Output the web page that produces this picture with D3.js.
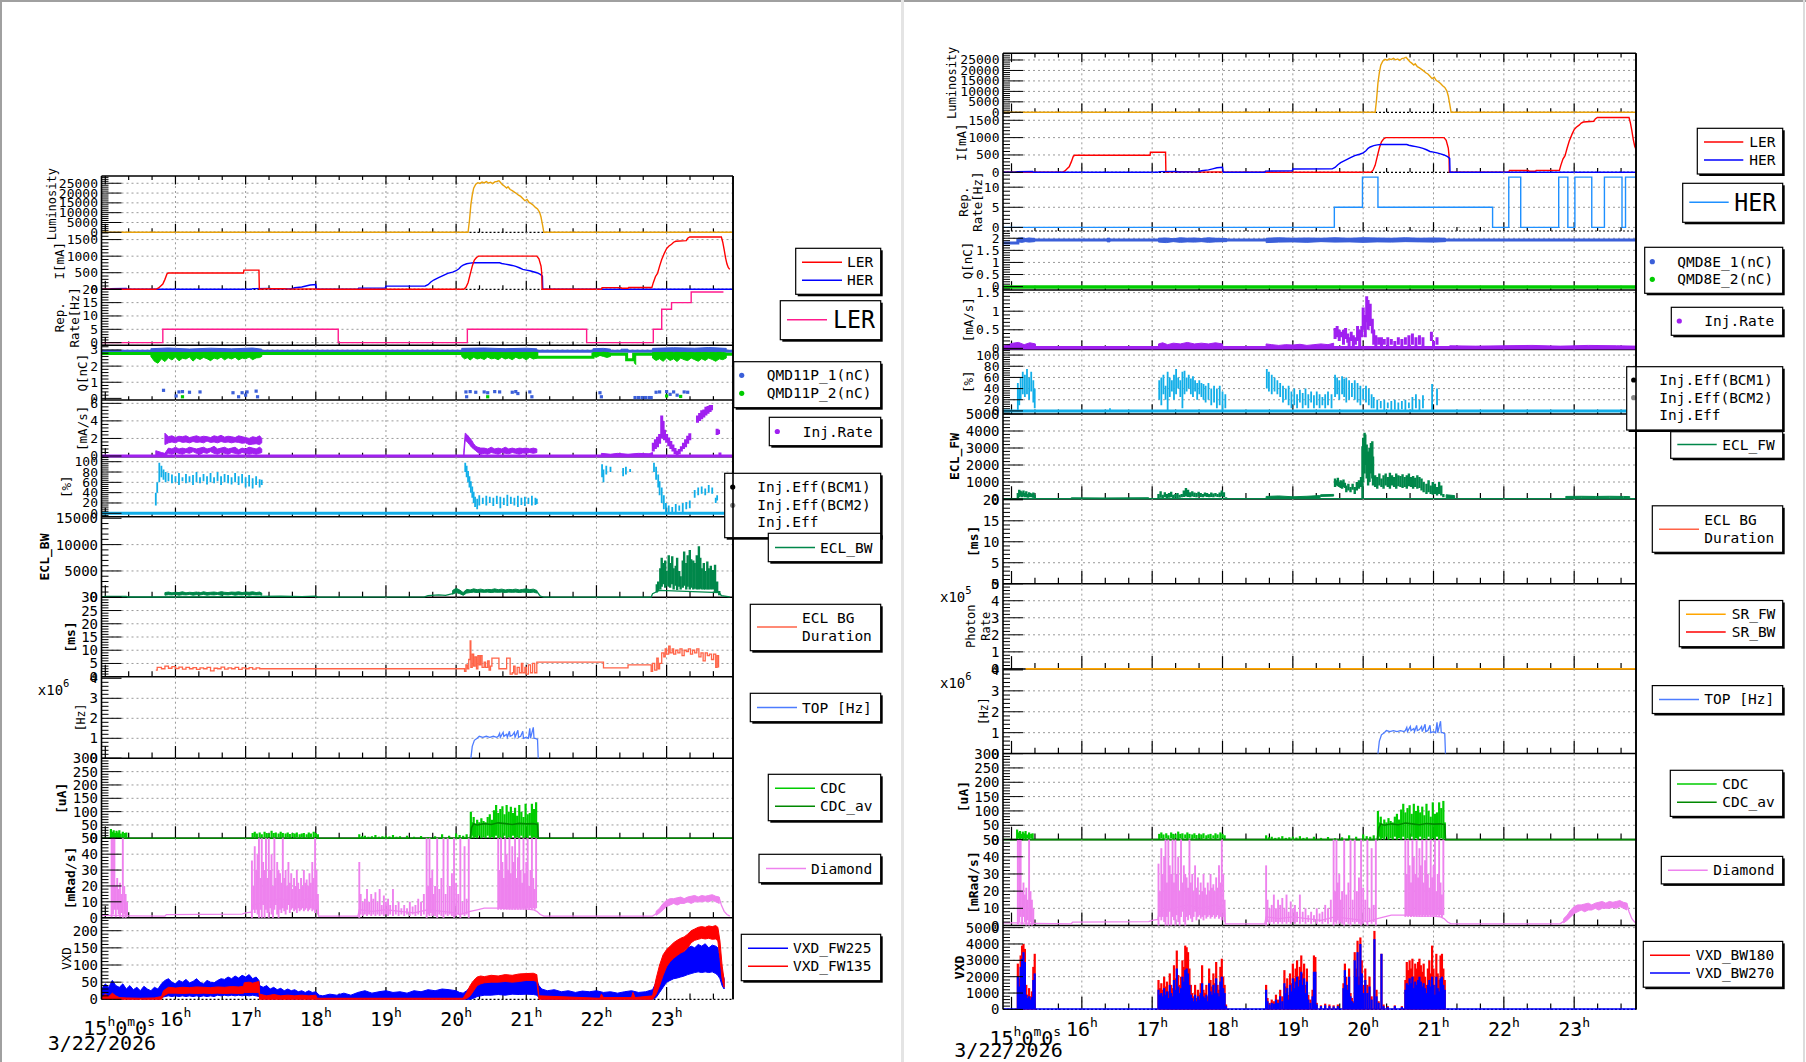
<!DOCTYPE html>
<html><head><meta charset="utf-8">
<script src="https://d3js.org/d3.v7.min.js"></script>
<style>
body{margin:0;background:#fff;overflow:hidden;}
svg{display:block;}
text{font-family:"DejaVu Sans Mono",monospace;fill:#000;}
</style></head><body>
<svg id="c" width="1806" height="1062"></svg>
<script>
// ================= DATA =================
const HOUR_TICKS=[15,16,17,18,19,20,21,22,23];
const HOUR_LABELS=[16,17,18,19,20,21,22,23];
const DATE_LABEL="3/22/2026";

const LUM=[[14.85,0],[20.17,0],[20.19,6000],[20.21,14000],[20.23,19000],[20.25,22500],[20.28,24500],[20.31,25300],[20.34,24900],[20.37,25600],[20.4,25200],[20.43,25800],[20.46,25100],[20.49,25500],[20.52,24800],[20.55,25700],[20.58,25900],[20.61,26300],[20.63,25500],[20.66,24300],[20.69,23500],[20.72,22600],[20.74,23200],[20.77,21800],[20.8,21200],[20.83,20500],[20.86,19800],[20.89,18900],[20.92,18300],[20.95,17200],[20.98,16100],[21.01,16800],[21.04,15200],[21.07,14600],[21.1,13800],[21.13,12700],[21.16,11900],[21.19,10200],[21.21,7800],[21.23,4000],[21.25,0],[23.96,0]];

const LER_I=[[14.85,0],[15.72,0],[15.76,40],[15.79,100],[15.82,160],[15.85,300],[15.88,470],[15.9,490],[16.97,490],[16.975,580],[17.19,580],[17.195,0],[17.3,15],[17.55,15],[17.6,5],[17.95,10],[18.02,0],[20.11,0],[20.14,60],[20.17,200],[20.2,450],[20.23,700],[20.26,880],[20.29,960],[20.32,1000],[21.15,1000],[21.18,920],[21.21,700],[21.22,500],[21.225,0],[22.07,0],[22.08,50],[22.35,50],[22.36,30],[22.45,30],[22.46,55],[22.79,55],[22.81,200],[22.84,380],[22.87,480],[22.9,700],[22.93,900],[22.97,1100],[23.0,1230],[23.03,1300],[23.07,1360],[23.1,1420],[23.13,1450],[23.28,1470],[23.3,1540],[23.33,1580],[23.78,1580],[23.8,1420],[23.82,1200],[23.84,950],[23.86,760],[23.88,650],[23.9,600]];

const HER_I=[[14.85,0],[15.07,0],[15.08,15],[15.3,25],[15.31,0],[17.08,0],[17.1,20],[17.35,25],[17.36,10],[17.65,12],[17.7,45],[17.8,70],[17.86,100],[17.92,130],[18.0,145],[18.01,0],[18.6,0],[18.61,35],[18.99,40],[19.0,95],[19.56,100],[19.6,140],[19.64,220],[19.68,280],[19.75,350],[19.82,420],[19.88,480],[19.95,520],[20.0,560],[20.04,620],[20.07,690],[20.1,730],[20.15,770],[20.2,790],[20.25,800],[20.62,800],[20.65,780],[20.7,760],[20.75,740],[20.8,720],[20.85,690],[20.9,650],[20.95,600],[21.0,580],[21.05,560],[21.1,530],[21.15,500],[21.2,450],[21.23,400],[21.235,0],[23.96,0]];

const REP_LER=[[14.85,0],[15.82,5],[18.32,0],[20.16,5],[21.86,0],[22.81,5],[22.93,12.5],[23.07,15],[23.35,19],[23.81,19]];
const REP_HER=[[14.85,0],[19.59,5],[19.99,12.5],[20.21,5],[21.84,0],[22.07,12.5],[22.24,0],[22.78,12.5],[22.91,0],[23.01,12.5],[23.25,0],[23.43,12.5],[23.68,0],[23.73,12.5],[23.9,12.5]];

// QMD11P (LER) charge
const QMD11P_1_LINE=[[14.85,2.92],[23.96,2.92]];
const QMD11P_2_LINE=[[14.85,2.78],[21.15,2.55],[21.95,2.74],[22.43,2.4],[22.53,2.74],[23.96,2.74]];
const QMD11P_1_BAND=[[15.65,2.9,3.08],[15.9,2.91,3.12],[16.2,2.9,3.06],[16.5,2.92,3.11],[16.8,2.9,3.07],[17.1,2.91,3.12],[17.23,2.9,3.05],[17.24,null,null],[20.08,2.9,3.1],[20.4,2.92,3.12],[20.7,2.9,3.08],[21.0,2.91,3.11],[21.15,2.92,3.07],[21.16,null,null],[21.95,2.9,3.08],[22.1,2.92,3.1],[22.2,2.9,3.05],[22.21,null,null],[22.35,2.9,3.05],[22.45,2.92,3.05],[22.46,null,null],[22.8,2.9,3.1],[23.1,2.92,3.14],[23.4,2.9,3.11],[23.6,2.91,3.15],[23.85,2.92,3.1]];
const QMD11P_2_BAND=[[15.65,2.6,2.8],[15.7,2.3,2.85],[15.75,2.18,2.9],[15.8,2.45,2.84],[15.85,2.28,2.95],[15.9,2.52,2.86],[15.95,2.38,2.9],[16.0,2.56,2.83],[16.05,2.33,2.91],[16.1,2.49,2.8],[16.15,2.44,2.94],[16.2,2.57,2.86],[16.25,2.31,2.89],[16.3,2.51,2.92],[16.35,2.41,2.84],[16.4,2.54,2.95],[16.45,2.46,2.85],[16.5,2.34,2.9],[16.55,2.5,2.86],[16.6,2.43,2.9],[16.65,2.56,2.96],[16.7,2.39,2.84],[16.75,2.52,2.91],[16.8,2.44,2.85],[16.85,2.55,2.9],[16.9,2.38,2.95],[16.95,2.5,2.86],[17.0,2.45,2.9],[17.05,2.56,2.84],[17.1,2.4,2.92],[17.15,2.51,2.85],[17.2,2.53,2.9],[17.23,2.6,2.8],[17.24,null,null],[20.08,2.6,2.85],[20.12,2.45,2.9],[20.16,2.52,2.86],[20.2,2.38,2.9],[20.25,2.55,2.84],[20.3,2.44,2.95],[20.35,2.5,2.86],[20.4,2.41,2.9],[20.45,2.56,2.9],[20.5,2.45,2.85],[20.55,2.49,2.95],[20.6,2.4,2.85],[20.65,2.55,2.9],[20.7,2.44,2.84],[20.75,2.51,2.95],[20.8,2.4,2.9],[20.85,2.55,2.85],[20.9,2.46,2.9],[20.95,2.52,2.85],[21.0,2.39,2.95],[21.05,2.55,2.85],[21.1,2.44,2.9],[21.15,2.5,2.85],[21.16,null,null],[21.95,2.6,2.86],[22.0,2.55,2.9],[22.05,2.66,2.85],[22.1,2.6,2.9],[22.15,2.54,2.85],[22.2,2.6,2.8],[22.21,null,null],[22.54,2.2,2.5],[22.56,2.1,2.7],[22.58,null,null],[22.8,2.5,2.85],[22.85,2.35,2.9],[22.9,2.46,2.86],[22.95,2.3,2.9],[23.0,2.5,2.84],[23.05,2.35,2.95],[23.1,2.45,2.85],[23.15,2.28,2.9],[23.2,2.5,2.86],[23.25,2.4,2.9],[23.3,2.34,2.85],[23.35,2.5,2.92],[23.4,2.4,2.85],[23.45,2.3,2.9],[23.5,2.46,2.86],[23.55,2.35,2.9],[23.6,2.5,2.85],[23.65,2.41,2.9],[23.7,2.3,2.85],[23.75,2.45,2.9],[23.8,2.4,2.85],[23.85,2.5,2.8]];
const QMD11P_1_LOW=[[15.83,0.5],[16.01,0.15],[16.05,0.4],[16.1,0.42],[16.2,0.38],[16.35,0.4],[16.82,0.35],[16.9,0.1],[16.95,0.35],[17.0,0.2],[17.02,0.4],[17.15,0.45],[17.17,0.1],[20.14,0.4],[20.15,0.1],[20.2,0.42],[20.28,0.38],[20.4,0.4],[20.45,0.35],[20.55,0.42],[20.62,0.4],[20.8,0.38],[20.85,0.42],[20.88,0.3],[21.05,0.4],[21.08,0.1],[22.05,0.35],[22.07,0.1],[22.55,0.05],[22.6,0.05],[22.65,0.05],[22.7,0.05],[22.75,0.05],[22.78,0.05],[22.85,0.38],[22.9,0.4],[23.0,0.42],[23.05,0.25],[23.1,0.4],[23.15,0.2],[23.25,0.4],[23.3,0.38]];
const QMD11P_2_LOW=[[16.1,0.1],[20.45,0.1],[23.0,0.15],[23.2,0.12]];

// QMD8E (HER) charge
const QMD8E_1_LINE=[[14.85,1.8],[15.09,1.93],[23.9,1.93]];
const QMD8E_2_LINE=[[14.85,-0.02],[23.9,-0.02]];
const QMD8E_1_BAND=[[15.09,1.85,2.0],[15.15,1.83,2.02],[15.2,1.86,1.99],[15.25,1.84,2.01],[15.33,1.86,1.99],[15.34,null,null],[16.36,1.85,2.0],[16.4,1.85,2.0],[16.41,null,null],[17.09,1.84,2.0],[17.2,1.82,2.01],[17.3,1.86,1.98],[17.4,1.83,2.02],[17.5,1.85,2.0],[17.6,1.84,2.01],[17.7,1.86,1.99],[17.8,1.83,2.02],[17.9,1.85,2.0],[18.06,1.86,1.99],[18.07,null,null],[18.62,1.82,2.0],[18.8,1.84,2.02],[19.0,1.85,2.0],[19.2,1.83,2.01],[19.4,1.86,2.0],[19.6,1.84,2.02],[19.8,1.85,2.0],[20.0,1.83,2.02],[20.2,1.85,2.01],[20.4,1.84,2.0],[20.6,1.86,2.02],[20.8,1.85,2.0],[21.0,1.84,2.01],[21.17,1.86,2.0]];

// Injection rate
const INJR_L_LINE=[[14.85,0],[23.96,0]];
const INJR_L_BAND=[[15.72,0.05,0.6],[15.8,0.05,0.4],[15.85,0.05,0.3],[15.9,0.3,0.9],[15.95,0.2,0.8],[16.0,0.4,1.0],[16.05,0.3,0.8],[16.1,0.2,0.9],[16.15,0.4,0.8],[16.2,0.3,1.0],[16.25,0.5,0.9],[16.3,0.3,0.8],[16.35,0.2,0.9],[16.4,0.4,1.0],[16.45,0.3,0.8],[16.5,0.5,0.9],[16.55,0.3,1.1],[16.6,0.2,0.8],[16.65,0.4,0.9],[16.7,0.3,1.0],[16.75,0.2,0.8],[16.8,0.4,0.9],[16.85,0.3,1.0],[16.9,0.2,0.7],[16.95,0.4,0.9],[17.0,0.3,0.8],[17.05,0.2,1.0],[17.1,0.3,0.9],[17.15,0.2,0.8],[17.2,0.3,1.0],[17.23,0.4,0.8],[17.24,null,null],[15.85,1.3,2.6],[15.9,1.5,2.2],[15.95,1.6,2.3],[16.0,1.5,2.1],[16.05,1.7,2.25],[16.1,1.55,2.2],[16.15,1.6,2.3],[16.2,1.5,2.1],[16.25,1.65,2.2],[16.3,1.55,2.3],[16.35,1.6,2.15],[16.4,1.5,2.25],[16.45,1.7,2.2],[16.5,1.55,2.1],[16.55,1.6,2.3],[16.6,1.5,2.2],[16.65,1.65,2.35],[16.7,1.55,2.15],[16.75,1.6,2.25],[16.8,1.5,2.2],[16.85,1.6,2.1],[16.9,1.55,2.3],[16.95,1.45,2.2],[17.0,1.5,2.1],[17.05,1.3,2.0],[17.1,1.35,2.2],[17.15,1.4,2.1],[17.2,1.3,2.3],[17.23,1.5,2.0],[17.24,null,null],[20.11,0.05,0.6],[20.13,1.8,2.6],[20.16,1.6,2.4],[20.19,1.3,2.1],[20.22,1.0,1.8],[20.25,0.8,1.4],[20.28,0.6,1.1],[20.31,0.4,1.0],[20.35,0.2,0.9],[20.4,0.3,0.9],[20.45,0.2,0.8],[20.5,0.4,1.0],[20.55,0.3,0.8],[20.6,0.2,0.9],[20.65,0.4,0.8],[20.7,0.3,1.0],[20.75,0.25,0.8],[20.8,0.4,0.9],[20.85,0.3,0.8],[20.9,0.2,0.9],[20.95,0.35,0.85],[21.0,0.3,0.9],[21.05,0.4,0.8],[21.1,0.3,0.9],[21.15,0.4,0.8],[21.16,null,null],[22.07,0,0.3],[22.2,0,0.2],[22.3,0,0.3],[22.45,0,0.2],[22.6,0,0.3],[22.75,0,0.25],[22.8,0.1,0.4]];
const INJR_L_SEG=[[22.81,0.5,1.5],[22.84,0.8,1.9],[22.87,1.0,2.2],[22.9,1.4,2.5],[22.93,2.0,4.6],[22.95,2.2,4.0],[22.97,1.8,3.0],[23.0,1.5,2.5],[23.03,1.1,2.1],[23.06,0.8,1.7],[23.09,0.5,1.3],[23.12,0.2,0.9],[23.15,0.05,0.6],[23.18,0.2,0.8],[23.21,0.5,1.1],[23.24,0.8,1.5],[23.27,1.0,1.9],[23.3,1.4,2.3],[23.33,1.8,2.6],[23.44,3.8,4.6],[23.47,4.0,4.9],[23.5,4.2,5.2],[23.53,4.4,5.3],[23.56,4.6,5.6],[23.59,4.8,5.7],[23.62,5.0,5.8],[23.64,5.2,5.8],[23.72,2.4,3.1],[23.74,2.5,3.0],[23.76,0.1,0.4]];
const INJR_R_LINE=[[14.85,0.02],[23.9,0.02]];
const INJR_R_BAND=[[14.88,0,0.06],[14.95,0.02,0.1],[15.02,0.03,0.14],[15.1,0.05,0.16],[15.18,0.02,0.1],[15.26,0.04,0.15],[15.34,0.02,0.12],[15.36,null,null],[17.09,0.02,0.12],[17.15,0.05,0.15],[17.22,0.02,0.1],[17.3,0.04,0.14],[17.4,0.03,0.12],[17.5,0.05,0.16],[17.6,0.02,0.12],[17.7,0.04,0.14],[17.8,0.03,0.12],[17.9,0.05,0.15],[18.0,0.02,0.12],[18.05,null,null],[18.62,0.02,0.12],[18.7,0.03,0.1],[18.8,0.02,0.08],[18.9,0.03,0.1],[19.0,0.02,0.09],[19.1,0.04,0.11],[19.2,0.02,0.08],[19.3,0.03,0.1],[19.4,0.04,0.12],[19.5,0.03,0.1],[19.58,0.05,0.14],[19.59,null,null],[21.23,0.02,0.07],[21.6,0.03,0.06],[22.0,0.02,0.07],[22.4,0.03,0.08],[22.8,0.02,0.06],[23.2,0.03,0.08],[23.6,0.02,0.07],[23.9,0.03,0.06]];
const INJR_R_SEG=[[19.6,0.25,0.55],[19.63,0.3,0.6],[19.66,0.2,0.5],[19.69,0.3,0.45],[19.72,0.1,0.5],[19.75,0.25,0.55],[19.78,0.15,0.4],[19.8,0.05,0.3],[19.83,0.2,0.45],[19.86,0.05,0.35],[19.89,0.1,0.3],[19.92,0.2,0.6],[19.95,0.05,0.5],[19.98,0.3,0.6],[20.0,0.5,1.1],[20.03,0.3,0.9],[20.05,0.7,1.4],[20.07,0.5,1.3],[20.1,0.6,1.2],[20.13,0.4,0.8],[20.15,0.1,0.5],[20.18,0.05,0.35],[20.22,0.1,0.3],[20.26,0.05,0.3],[20.3,0.1,0.25],[20.35,0.05,0.3],[20.4,0.1,0.25],[20.45,0.05,0.2],[20.5,0.1,0.3],[20.55,0.05,0.25],[20.6,0.1,0.3],[20.65,0.05,0.35],[20.7,0.1,0.4],[20.75,0.05,0.3],[20.8,0.1,0.35],[20.85,0.05,0.3],[20.97,0.2,0.45],[21.0,0.05,0.2],[21.05,0.1,0.3]];

// Injection efficiency
const INJE_L_LINE=[[14.85,0],[23.96,0]];
const INJE_L=[[15.72,15,40],[15.74,40,60],[15.77,60,98],[15.8,70,92],[15.83,65,85],[15.86,60,80],[15.9,62,78],[15.95,58,75],[16.0,60,72],[16.05,55,78],[16.1,62,70],[16.15,58,76],[16.2,60,72],[16.25,55,74],[16.3,60,80],[16.35,58,70],[16.4,62,76],[16.45,56,72],[16.5,60,78],[16.55,58,70],[16.6,62,80],[16.65,55,72],[16.7,60,76],[16.75,58,74],[16.8,56,70],[16.85,60,78],[16.9,55,72],[16.95,58,76],[17.0,50,70],[17.05,52,74],[17.1,48,68],[17.15,55,72],[17.2,50,66],[17.23,55,65],[20.13,80,98],[20.15,70,92],[20.17,60,82],[20.19,50,72],[20.21,40,62],[20.23,30,52],[20.25,20,42],[20.27,12,32],[20.3,8,28],[20.33,15,35],[20.38,18,30],[20.43,15,34],[20.48,20,32],[20.53,14,30],[20.58,18,34],[20.63,10,32],[20.68,16,30],[20.73,14,36],[20.78,18,32],[20.83,15,30],[20.88,12,34],[20.93,16,30],[20.98,14,32],[21.03,18,30],[21.08,15,34],[21.13,16,30],[21.15,18,28],[22.08,70,95],[22.1,60,85],[22.14,75,92],[22.2,80,90],[22.38,72,88],[22.42,75,90],[22.48,80,86],[22.82,80,98],[22.85,65,90],[22.88,50,75],[22.9,35,62],[22.93,20,50],[22.96,8,35],[22.99,2,20],[23.03,0,15],[23.08,2,12],[23.13,0,18],[23.18,5,15],[23.23,2,20],[23.28,8,22],[23.33,10,25],[23.4,30,45],[23.45,35,50],[23.5,38,52],[23.55,35,48],[23.6,40,55],[23.65,38,50],[23.7,20,30],[23.72,25,35]];
const INJE_R_LINE=[[14.85,0],[23.9,0]];
const INJE_R=[[15.09,0,50],[15.11,10,40],[15.13,20,60],[15.16,30,70],[15.19,25,65],[15.22,30,75],[15.25,20,60],[15.28,35,70],[15.31,15,55],[15.33,5,40],[16.4,0,5],[17.1,20,55],[17.13,10,60],[17.16,30,65],[17.19,20,45],[17.22,0,70],[17.25,25,60],[17.28,35,55],[17.31,20,65],[17.34,30,75],[17.37,40,60],[17.4,25,55],[17.43,5,70],[17.46,30,72],[17.49,35,60],[17.52,40,65],[17.55,30,58],[17.58,25,62],[17.61,35,55],[17.64,20,50],[17.67,30,55],[17.7,25,50],[17.73,20,48],[17.76,15,45],[17.8,20,50],[17.84,10,40],[17.88,15,45],[17.92,5,40],[17.96,10,45],[18.0,0,35],[18.04,5,30],[18.63,40,75],[18.66,35,70],[18.7,30,65],[18.74,35,60],[18.78,30,55],[18.82,25,50],[18.86,15,45],[18.9,20,40],[18.94,10,45],[18.98,5,35],[19.02,10,40],[19.06,5,30],[19.1,15,38],[19.14,5,32],[19.18,10,40],[19.22,5,30],[19.26,15,35],[19.3,5,28],[19.34,10,35],[19.38,5,30],[19.42,10,25],[19.46,5,30],[19.5,10,35],[19.55,5,30],[19.6,25,65],[19.63,30,60],[19.66,20,55],[19.7,30,62],[19.73,25,58],[19.76,15,60],[19.8,20,55],[19.84,25,50],[19.88,20,55],[19.92,15,50],[19.96,10,45],[20.0,20,40],[20.04,15,45],[20.08,10,40],[20.12,5,30],[20.15,5,25],[20.2,0,20],[20.25,5,18],[20.3,0,20],[20.35,5,15],[20.4,0,18],[20.45,2,20],[20.5,0,15],[20.55,3,18],[20.6,0,20],[20.65,5,15],[20.7,0,25],[20.75,5,30],[20.8,0,20],[20.85,5,28],[20.98,0,48],[21.05,10,40]];

// ECL
const ECLBW_L_LINE=[[14.946,80],[15.0,150],[15.3,180],[15.32,60],[15.85,60],[17.23,150],[17.5,200],[17.8,120],[18.0,220],[18.03,40],[19.55,80],[19.6,300],[19.75,450],[19.85,350],[19.95,700],[20.0,1300],[20.05,900],[20.1,500],[20.13,1100],[21.15,1100],[21.2,200],[21.25,40],[22.78,40],[22.8,700],[22.85,1000],[22.9,1300],[23.75,900],[23.78,300],[23.9,100]];
const ECLBW_L_BAND=[[15.85,400,900],[15.9,500,1000],[15.95,450,850],[16.0,550,950],[16.05,400,900],[16.1,500,1050],[16.15,450,850],[16.2,550,950],[16.25,400,900],[16.3,500,1000],[16.35,450,850],[16.4,550,1050],[16.45,400,900],[16.5,500,950],[16.55,450,1000],[16.6,550,900],[16.65,400,1050],[16.7,500,950],[16.75,450,900],[16.8,550,1000],[16.85,400,950],[16.9,500,1050],[16.95,450,900],[17.0,550,1000],[17.05,400,950],[17.1,500,1050],[17.15,450,900],[17.2,500,1000],[17.23,400,800],[17.24,null,null],[19.95,600,1300],[20.0,900,1700],[20.05,700,1400],[20.1,400,900],[20.15,800,1500],[20.2,900,1400],[20.25,1000,1600],[20.3,900,1450],[20.35,1000,1550],[20.4,950,1400],[20.45,1000,1500],[20.5,900,1450],[20.55,1000,1600],[20.6,950,1450],[20.65,1000,1550],[20.7,900,1400],[20.75,1000,1500],[20.8,950,1450],[20.85,1000,1550],[20.9,900,1400],[20.95,1000,1500],[21.0,950,1600],[21.05,900,1450],[21.1,1000,1550],[21.15,800,1300]];
const ECLBW_L_SPK=[[22.86,900,2500],[22.88,1200,3000],[22.91,1500,5500],[22.93,2000,7500],[22.95,2500,6500],[22.98,1800,7000],[23.0,2200,5000],[23.03,2000,8000],[23.05,1800,6500],[23.08,2500,7800],[23.1,1500,5500],[23.13,2200,6000],[23.15,1400,7500],[23.18,2000,5000],[23.2,1500,4000],[23.23,1800,7000],[23.25,2200,8700],[23.28,1500,6500],[23.3,2000,8000],[23.33,1500,9000],[23.35,1800,7200],[23.38,1500,7000],[23.4,1600,6500],[23.43,1500,8000],[23.46,1500,9700],[23.48,1600,7500],[23.5,1500,5500],[23.53,1500,6500],[23.55,1500,5000],[23.58,1500,6800],[23.6,1500,5500],[23.63,1500,6000],[23.66,1500,5200],[23.69,1000,6200],[23.72,800,3000],[23.75,400,1200]];
const ECLFW_R_LINE=[[14.85,25],[23.9,25]];
const ECLFW_R_BAND=[[15.85,20,70],[16.3,25,60],[16.95,20,75],[16.96,null,null],[18.62,20,150],[18.8,30,180],[19.0,30,130],[19.2,40,160],[19.38,60,200],[19.4,150,250],[19.58,170,270],[19.59,null,null],[21.18,80,250],[21.3,50,200],[21.31,null,null],[22.88,80,150],[23.1,95,160],[23.3,90,150],[23.5,95,160],[23.7,90,150],[23.79,80,140]];
const ECLFW_R_SEG=[[15.09,0,350],[15.11,100,550],[15.13,150,480],[15.15,100,400],[15.17,150,500],[15.19,100,350],[15.21,120,450],[15.23,80,300],[15.25,100,400],[15.27,120,350],[15.29,100,300],[15.31,80,380],[15.33,50,250],[17.09,50,300],[17.12,80,450],[17.15,60,250],[17.18,100,400],[17.21,60,300],[17.24,80,350],[17.27,100,420],[17.3,60,250],[17.33,80,300],[17.36,60,350],[17.39,80,250],[17.42,100,300],[17.45,120,500],[17.48,150,650],[17.51,120,550],[17.54,100,400],[17.57,150,450],[17.6,120,380],[17.63,100,350],[17.66,150,420],[17.69,120,350],[17.72,100,300],[17.75,150,380],[17.78,120,350],[17.81,100,300],[17.84,120,380],[17.87,100,320],[17.9,150,350],[17.93,120,300],[17.96,100,380],[17.99,150,500],[18.02,100,400],[18.05,0,100],[19.6,700,1200],[19.62,800,1100],[19.64,750,1250],[19.66,700,1000],[19.68,650,1100],[19.7,600,1050],[19.72,700,1150],[19.74,650,950],[19.76,400,800],[19.79,500,900],[19.82,400,700],[19.85,550,900],[19.88,300,700],[19.91,500,1000],[19.94,600,1100],[19.97,700,1300],[19.99,0,3100],[20.0,1000,3600],[20.02,1500,3900],[20.03,2000,3800],[20.05,1200,3200],[20.07,800,2800],[20.09,1000,3000],[20.11,1500,3300],[20.13,1200,3400],[20.14,800,2500],[20.17,700,1400],[20.2,600,1300],[20.23,800,1500],[20.26,700,1200],[20.29,600,1400],[20.32,800,1500],[20.35,700,1300],[20.38,600,1550],[20.41,800,1400],[20.44,700,1300],[20.47,600,1500],[20.5,750,1400],[20.53,700,1350],[20.56,650,1450],[20.59,700,1300],[20.62,600,1400],[20.65,750,1500],[20.68,700,1300],[20.71,600,1350],[20.74,700,1250],[20.77,600,1400],[20.8,650,1300],[20.83,500,1200],[20.86,400,1000],[20.9,300,900],[20.93,400,1100],[20.96,300,800],[20.99,250,1000],[21.02,300,900],[21.05,200,700],[21.08,300,1000],[21.11,200,800],[21.14,100,300]];

const DUR_L=[[15.72,2.5],[15.74,3.5],[15.8,3.0],[15.85,4.0],[15.9,3.2],[15.95,3.8],[16.0,3.1],[16.05,3.6],[16.1,2.9],[16.15,3.5],[16.2,3.0],[16.25,3.4],[16.3,2.8],[16.35,3.3],[16.4,3.0],[16.45,3.5],[16.5,2.2],[16.55,3.2],[16.6,3.0],[16.65,3.6],[16.7,2.9],[16.75,3.3],[16.8,3.0],[16.85,3.5],[16.9,2.8],[16.95,3.3],[17.0,3.0],[17.05,3.4],[17.1,2.9],[17.15,3.3],[17.2,3.0],[20.1,3.0],[20.12,2.0],[20.14,4.5],[20.16,3.0],[20.18,6.5],[20.2,13.5],[20.21,3.5],[20.23,8.5],[20.25,4.0],[20.27,7.5],[20.29,3.0],[20.31,8.0],[20.33,4.5],[20.35,8.0],[20.37,3.5],[20.4,5.5],[20.42,3.5],[20.45,6.0],[20.47,2.5],[20.49,4.0],[20.51,4.0],[20.51,7.0],[20.61,7.0],[20.61,3.0],[20.72,3.0],[20.72,7.0],[20.77,7.0],[20.77,1.0],[20.8,1.5],[20.82,4.0],[20.84,1.0],[20.87,3.5],[20.9,1.5],[20.93,5.0],[20.95,1.5],[20.98,3.5],[21.0,1.0],[21.03,4.5],[21.06,1.5],[21.09,5.0],[21.12,1.5],[21.15,5.5],[22.08,5.5],[22.1,3.3],[22.45,3.3],[22.45,4.5],[22.75,4.5],[22.78,2.0],[22.8,5.0],[22.83,2.5],[22.86,7.0],[22.88,3.0],[22.9,5.0],[22.93,9.0],[22.96,7.5],[22.98,10.5],[23.0,8.5],[23.03,11.5],[23.05,9.0],[23.08,10.5],[23.1,8.5],[23.13,10.0],[23.16,9.0],[23.19,10.5],[23.22,8.0],[23.25,10.0],[23.28,9.5],[23.31,10.5],[23.34,8.5],[23.37,10.0],[23.4,9.0],[23.43,10.5],[23.46,7.5],[23.49,9.0],[23.52,6.0],[23.55,9.0],[23.58,8.0],[23.61,8.5],[23.64,6.5],[23.67,8.5],[23.7,3.5],[23.72,8.0],[23.74,3.5]];

const PHOTON_FW=[[15.2,0],[23.9,0]];

const TOP_HZ=[[20.21,0],[20.23,0.6],[20.26,0.9],[20.3,1.0],[20.33,1.1],[20.38,1.05],[20.43,1.1],[20.48,1.05],[20.53,1.1],[20.58,1.05],[20.6,1.1],[20.62,1.25],[20.63,1.05],[20.67,1.3],[20.68,1.1],[20.72,1.2],[20.73,1.05],[20.76,1.35],[20.77,1.1],[20.8,1.15],[20.83,1.3],[20.84,1.05],[20.88,1.4],[20.89,1.05],[20.92,1.1],[20.95,1.35],[20.96,1.0],[21.0,1.05],[21.03,1.0],[21.05,1.5],[21.06,1.0],[21.1,1.55],[21.11,1.0],[21.13,1.0],[21.16,0.95],[21.17,0]];

const CDC_AV=[[14.85,0],[20.2,0],[20.22,40],[20.25,55],[20.3,50],[20.4,55],[20.5,52],[20.6,58],[20.7,55],[20.8,52],[20.9,56],[21.0,54],[21.1,55],[21.16,52],[21.17,0],[23.96,0]];
const CDC_SPK=[[15.08,0,35],[15.1,5,25],[15.12,0,30],[15.14,5,20],[15.16,0,28],[15.18,5,22],[15.2,0,30],[15.22,5,18],[15.25,0,25],[15.28,5,20],[15.3,0,22],[17.1,0,20],[17.13,5,25],[17.16,0,18],[17.2,5,22],[17.23,0,15],[17.27,5,25],[17.3,0,20],[17.33,5,18],[17.37,0,28],[17.4,5,20],[17.43,0,22],[17.47,5,18],[17.5,0,25],[17.53,5,20],[17.57,0,18],[17.6,5,22],[17.63,0,16],[17.67,5,20],[17.7,0,18],[17.73,5,22],[17.77,0,15],[17.8,5,18],[17.83,0,20],[17.87,5,15],[17.9,0,22],[17.93,5,18],[17.97,0,25],[18.0,5,20],[18.03,0,15],[18.62,0,15],[18.66,0,8],[18.7,0,10],[18.75,0,6],[18.8,0,8],[18.85,0,12],[18.9,0,6],[18.95,0,8],[19.0,0,10],[19.05,0,7],[19.1,0,12],[19.15,0,6],[19.2,0,8],[19.3,0,10],[19.4,0,6],[19.5,0,9],[19.6,0,5],[19.7,0,8],[19.8,0,15],[19.9,0,10],[20.0,0,18],[20.05,0,12],[20.1,0,10],[20.15,0,15],[20.21,0,100],[20.23,10,60],[20.25,0,80],[20.27,5,55],[20.3,0,70],[20.33,10,60],[20.36,0,75],[20.39,5,65],[20.42,0,60],[20.45,10,80],[20.48,0,90],[20.51,5,70],[20.54,0,105],[20.57,10,125],[20.6,0,95],[20.63,5,110],[20.66,0,120],[20.69,10,90],[20.72,0,125],[20.75,5,100],[20.78,0,118],[20.81,10,95],[20.84,0,115],[20.87,5,85],[20.9,0,125],[20.93,10,100],[20.96,0,80],[20.99,5,130],[21.02,0,90],[21.05,10,95],[21.08,0,130],[21.11,5,110],[21.14,0,135],[21.16,5,60]];

const DIAM_BASE=[[14.85,1.5],[15.07,1.5],[15.33,1.2],[15.85,1.0],[15.87,2.0],[16.95,2.2],[17.0,3.0],[17.08,3.5],[17.1,8],[17.3,10],[17.5,12],[17.7,10],[17.9,12],[18.03,10],[18.04,1.0],[18.6,1.0],[18.62,5],[18.8,4],[19.0,5],[19.2,4],[19.4,3],[19.6,5],[19.8,4],[20.0,3],[20.05,2],[20.2,4],[20.3,5],[20.4,6],[20.6,6],[20.8,5.5],[21.0,5.5],[21.1,5],[21.15,4],[21.2,2],[21.25,1],[22.8,1],[22.9,4],[23.0,8],[23.05,10],[23.3,11],[23.5,12],[23.75,12.5],[23.78,8],[23.82,4],[23.86,2],[23.9,1]];
const DIAM_SPK=[[15.09,0,50],[15.11,2,50],[15.13,5,50],[15.15,0,20],[15.17,5,25],[15.19,2,18],[15.21,0,22],[15.23,3,15],[15.25,0,50],[15.27,2,20],[15.29,0,15],[15.31,1,10],[17.09,0,36],[17.11,5,20],[17.13,3,45],[17.15,5,30],[17.17,2,40],[17.19,0,50],[17.21,5,25],[17.23,0,50],[17.25,8,35],[17.27,0,30],[17.29,5,50],[17.31,3,25],[17.33,0,50],[17.35,6,30],[17.37,2,40],[17.39,0,20],[17.41,5,50],[17.43,8,25],[17.45,2,35],[17.47,0,30],[17.49,5,28],[17.51,3,22],[17.53,6,50],[17.55,4,25],[17.57,2,30],[17.59,5,20],[17.61,8,35],[17.63,3,22],[17.65,5,28],[17.67,6,18],[17.69,4,25],[17.71,5,20],[17.73,3,30],[17.75,6,22],[17.77,4,18],[17.79,5,25],[17.81,6,20],[17.83,4,30],[17.85,5,22],[17.87,6,24],[17.89,4,20],[17.91,5,28],[17.93,6,22],[17.95,4,35],[17.97,5,25],[17.99,3,50],[18.01,5,30],[18.03,2,15],[18.62,0,35],[18.64,2,15],[18.67,1,10],[18.7,2,12],[18.73,1,18],[18.76,2,10],[18.79,1,15],[18.82,2,12],[18.85,1,16],[18.88,2,10],[18.91,1,18],[18.94,2,8],[18.97,1,14],[19.0,2,10],[19.03,1,12],[19.06,2,8],[19.1,1,18],[19.14,2,8],[19.18,1,10],[19.22,2,6],[19.26,1,8],[19.3,2,6],[19.34,1,10],[19.38,2,7],[19.42,1,8],[19.46,2,12],[19.5,1,10],[19.54,2,15],[19.58,0,50],[19.6,2,20],[19.62,1,50],[19.64,3,25],[19.66,1,30],[19.68,2,15],[19.7,1,20],[19.73,0,50],[19.76,2,18],[19.79,1,25],[19.82,0,50],[19.85,2,15],[19.88,1,50],[19.91,2,20],[19.94,1,28],[19.97,0,50],[20.0,1,22],[20.03,2,15],[20.06,0,50],[20.09,2,10],[20.12,1,45],[20.15,2,12],[20.18,0,50],[20.6,5,50],[20.62,6,30],[20.64,5,50],[20.66,6,35],[20.68,5,25],[20.7,6,50],[20.72,5,40],[20.74,6,30],[20.76,5,50],[20.78,6,28],[20.8,5,45],[20.82,6,35],[20.84,5,50],[20.86,6,25],[20.88,5,38],[20.9,6,50],[20.92,5,30],[20.94,6,22],[20.96,5,50],[20.98,6,28],[21.0,5,35],[21.02,6,50],[21.04,5,20],[21.06,6,30],[21.08,5,50],[21.1,6,25],[21.12,5,18],[21.14,6,50]];
const DIAM_BAND=[[22.85,1.5,4],[22.9,3,6],[22.95,5,9],[23.0,7,11],[23.05,8,12],[23.1,9,12],[23.15,8,12.5],[23.2,9,13],[23.25,9,12],[23.3,10,13],[23.35,9,13.5],[23.4,10,14],[23.45,10,13],[23.5,10,14],[23.55,10.5,13.5],[23.6,10,14],[23.65,11,14.5],[23.7,10,13.5],[23.75,9,13]];

const VXD_FW225=[[14.95,0,30],[15.0,5,45],[15.05,0,35],[15.1,3,55],[15.15,0,40],[15.2,5,35],[15.25,0,45],[15.3,3,30],[15.35,0,40],[15.4,2,28],[15.45,0,35],[15.5,3,25],[15.55,0,38],[15.6,2,30],[15.65,0,25],[15.7,3,35],[15.75,0,30],[15.8,5,45],[15.85,8,55],[15.9,10,60],[15.95,8,50],[16.0,10,45],[16.05,8,55],[16.1,10,50],[16.15,8,58],[16.2,10,48],[16.25,8,52],[16.3,10,60],[16.35,8,50],[16.4,10,45],[16.45,8,55],[16.5,10,50],[16.55,8,48],[16.6,12,55],[16.65,10,60],[16.7,12,58],[16.75,10,65],[16.8,12,60],[16.85,10,68],[16.9,12,62],[16.95,10,70],[17.0,12,65],[17.05,10,72],[17.1,12,60],[17.15,10,65],[17.19,8,55],[17.2,5,40],[17.25,3,35],[17.3,0,40],[17.35,5,30],[17.4,0,35],[17.45,3,28],[17.5,0,32],[17.55,5,25],[17.6,0,30],[17.65,3,25],[17.7,0,28],[17.75,3,22],[17.8,0,25],[17.85,3,20],[17.9,0,25],[17.95,3,20],[18.0,0,22],[18.05,0,12],[18.1,0,10],[18.2,0,15],[18.3,0,12],[18.4,0,18],[18.5,0,12],[18.6,0,20],[18.7,0,25],[18.8,0,18],[18.9,0,22],[19.0,0,25],[19.1,0,20],[19.2,0,22],[19.3,0,18],[19.4,0,25],[19.5,0,22],[19.6,0,28],[19.7,0,25],[19.8,0,30],[19.9,0,28],[20.0,0,25],[20.05,0,20],[20.1,0,18],[20.15,0,25],[20.2,0,35],[20.25,3,45],[20.3,8,50],[20.35,10,52],[20.4,12,55],[20.5,12,52],[20.6,14,55],[20.7,12,53],[20.8,15,55],[20.9,14,56],[21.0,15,58],[21.1,14,57],[21.15,12,55],[21.18,5,40],[21.22,0,30],[21.3,0,25],[21.4,0,28],[21.5,0,22],[21.6,0,25],[21.7,0,20],[21.8,0,24],[21.9,0,22],[22.0,0,25],[22.1,0,20],[22.2,0,22],[22.3,0,18],[22.4,0,22],[22.5,0,25],[22.6,0,20],[22.7,0,22],[22.8,0,28],[22.85,5,50],[22.9,20,80],[22.95,35,100],[23.0,50,120],[23.05,55,125],[23.1,60,130],[23.15,62,135],[23.2,65,140],[23.25,68,138],[23.3,72,150],[23.35,75,155],[23.4,78,150],[23.45,80,160],[23.5,78,155],[23.55,80,162],[23.6,78,150],[23.65,80,158],[23.7,75,155],[23.73,70,150],[23.76,60,120],[23.79,40,80],[23.82,30,60]];
const VXD_FW135=[[14.95,0,5],[15.0,0,15],[15.05,0,8],[15.1,0,18],[15.15,0,10],[15.2,0,5],[15.3,0,4],[15.5,0,3],[15.7,0,4],[15.8,0,8],[15.83,10,25],[15.9,18,35],[16.0,18,33],[16.1,17,35],[16.2,18,34],[16.3,17,36],[16.4,18,35],[16.5,17,34],[16.6,18,36],[16.7,17,35],[16.8,18,37],[16.9,17,36],[16.97,18,38],[16.98,20,48],[17.05,20,50],[17.1,20,47],[17.19,20,52],[17.2,0,15],[17.3,0,10],[17.4,0,14],[17.5,0,10],[17.6,0,12],[17.7,0,10],[17.8,0,12],[17.9,0,10],[18.0,0,12],[18.02,0,3],[20.1,0,3],[20.15,2,20],[20.2,10,40],[20.25,25,55],[20.3,40,65],[20.35,45,68],[20.4,48,66],[20.5,50,70],[20.6,50,68],[20.7,52,72],[20.8,50,70],[20.9,52,74],[21.0,55,75],[21.1,55,76],[21.15,52,72],[21.18,0,10],[22.05,0,3],[22.07,0,15],[22.1,0,5],[22.5,0,5],[22.52,0,20],[22.55,0,5],[22.8,0,10],[22.85,15,60],[22.9,40,100],[22.95,70,130],[23.0,95,145],[23.05,110,155],[23.1,120,165],[23.15,128,172],[23.2,135,178],[23.25,140,182],[23.3,150,190],[23.35,165,200],[23.4,172,205],[23.45,175,210],[23.5,178,212],[23.55,176,210],[23.6,178,214],[23.65,175,212],[23.7,176,215],[23.73,170,210],[23.76,120,170],[23.79,60,100],[23.82,35,55]];
// right VXD: [time, BW180, BW270]
const VXD_BW=[[15.09,2800,2000],[15.11,1900,1400],[15.13,3300,2600],[15.15,3900,3100],[15.17,4000,3500],[15.19,3700,2900],[15.21,1500,900],[15.23,900,700],[15.25,1300,800],[15.27,800,600],[15.29,1100,750],[15.31,2600,1800],[15.33,3400,2200],[17.09,1800,1200],[17.11,1300,900],[17.13,1600,1000],[17.15,1200,800],[17.17,2000,1300],[17.19,1400,900],[17.21,1700,1100],[17.23,1100,700],[17.25,2200,1500],[17.27,1500,1000],[17.29,1300,800],[17.31,2700,1800],[17.33,1900,1200],[17.35,3600,2500],[17.37,2100,1400],[17.39,1500,1000],[17.41,2000,1300],[17.43,3000,2000],[17.45,2600,1700],[17.47,3900,2400],[17.49,3800,2500],[17.51,3500,2200],[17.53,2500,1500],[17.55,1500,900],[17.57,1000,700],[17.59,800,500],[17.61,1500,900],[17.63,700,500],[17.65,1200,800],[17.67,900,600],[17.69,1600,1000],[17.71,2700,1600],[17.73,1200,800],[17.75,1000,700],[17.77,1500,900],[17.79,800,500],[17.81,2500,1600],[17.83,1800,1100],[17.85,1400,900],[17.87,2200,1500],[17.89,1600,1000],[17.91,2900,1900],[17.93,1500,1000],[17.95,1200,800],[17.97,2600,1700],[17.99,3100,2000],[18.01,2000,1300],[18.03,1500,1000],[18.05,300,200],[18.62,1500,1200],[18.64,700,500],[18.67,400,300],[18.7,600,400],[18.73,500,350],[18.76,900,600],[18.79,600,400],[18.82,1200,800],[18.85,800,500],[18.88,2400,1600],[18.9,1400,1000],[18.92,1900,1300],[18.94,900,600],[18.96,2200,1500],[18.98,1600,1100],[19.0,2800,1900],[19.02,1900,1300],[19.04,2500,1700],[19.06,3000,2000],[19.08,2000,1400],[19.1,2600,1800],[19.12,3300,2300],[19.14,2200,1500],[19.16,2800,1900],[19.18,1500,1000],[19.2,2500,1700],[19.22,900,600],[19.25,600,400],[19.28,1200,800],[19.3,3300,2300],[19.32,3200,2300],[19.34,400,300],[19.4,250,200],[19.46,350,250],[19.52,300,200],[19.58,250,180],[19.64,300,200],[19.72,1600,1300],[19.74,2800,2400],[19.76,2000,1500],[19.78,1500,1200],[19.8,2500,2000],[19.82,1000,800],[19.84,700,500],[19.86,500,400],[19.88,3500,3000],[19.9,2500,2000],[19.92,4200,3500],[19.94,2000,1500],[19.96,4400,4000],[19.98,3000,2200],[20.0,1500,1000],[20.03,2500,1800],[20.06,1500,1000],[20.09,2000,1400],[20.12,800,600],[20.16,4800,4300],[20.19,1200,800],[20.22,500,400],[20.26,3400,3400],[20.29,300,200],[20.35,200,150],[20.45,250,200],[20.55,200,150],[20.6,1800,1200],[20.62,2900,1600],[20.64,2400,1500],[20.66,3000,1900],[20.68,2500,1600],[20.7,3100,2000],[20.72,2000,1300],[20.74,2800,1700],[20.76,2500,1500],[20.78,2900,1800],[20.8,3100,2000],[20.82,2700,1700],[20.84,2300,1400],[20.86,2800,1600],[20.88,2000,1300],[20.9,1500,1000],[20.92,2500,1500],[20.94,3000,1800],[20.96,2200,1400],[20.98,3900,2000],[21.0,2500,1500],[21.02,1500,900],[21.04,3400,2000],[21.06,2200,1300],[21.08,1800,1100],[21.1,3300,1900],[21.12,3400,2000],[21.14,2500,1500],[21.16,1800,1200]];
const VXD_BW270_BASE=[[14.88,30],[23.9,30]];

// tick label values
const T_LUM=[0,5000,10000,15000,20000,25000];
const T_CUR=[0,500,1000,1500];
const T_REP_L=[0,5,10,15,20];
const T_REP_R=[0,5,10];
const T_Q_L=[0,1,2,3];
const T_Q_R=[0,0.5,1,1.5,2];
const T_INJR_L=[0,2,4,6];
const T_INJR_R=[0,0.5,1,1.5];
const T_EFF=[0,20,40,60,80,100];
const T_ECLBW=[0,5000,10000,15000];
const T_ECLFW=[0,1000,2000,3000,4000,5000];
const T_DUR_L=[0,5,10,15,20,25,30];
const T_DUR_R=[0,5,10,15,20];
const T_PHOTON=[0,1,2,3,4,5];
const T_TOP=[0,1,2,3,4];
const T_CDC=[0,50,100,150,200,250,300];
const T_DIAM=[0,10,20,30,40,50];
const T_VXD_L=[0,50,100,150,200];
const T_VXD_R=[0,1000,2000,3000,4000,5000];

// ================= STYLE / LAYOUT =================
const C_LUM='#e8a10a',C_LER='#ff0000',C_HER='#0000ff',C_REPL='#ff1a8c',C_REPH='#1e90ff',C_QB='#3b5fd9',C_QG='#00cc00',
C_INJR='#a020f0',C_EFF='#12aee8',C_ECL='#00874a',C_DUR='#ff6347',C_TOP='#4d7cff',C_CDC='#00cc00',C_CDCAV='#008800',C_DIAM='#ee82ee',C_SRFW='#ffa500';

function P(top,bottom,domain,ticks,fs,bstyle,title,series,extra){return Object.assign({top,bottom,domain,ticks,fs,bstyle,title,series},extra||{});}

const LEFT={id:'L',x0:101.5,x1:733,t0:14.946,t1:23.946,labelY:1026,dateX:47.7,dateY:1050,panels:[
 P(176,232.3,[0,28700],T_LUM,13,'dotted',[{t:'Luminosity',x:51.9,s:12}],[{type:'line',data:LUM,color:C_LUM,w:1.4}]),
 P(232.3,289.3,[0,1720],T_CUR,13,'dotted',[{t:'I[mA]',x:59,s:12.5}],[{type:'line',data:HER_I,color:C_HER,w:1.4},{type:'line',data:LER_I,color:C_LER,w:1.4}]),
 P(289.3,345.3,[-1,20],T_REP_L,13,'solid',[{t:'Rep.',x:59,s:12.5},{t:'Rate[Hz]',x:74,s:12.5}],[{type:'step',data:REP_LER,color:C_REPL,w:1.4}]),
 P(345.3,400,[-0.1,3.29],T_Q_L,13,'solid',[{t:'Q[nC]',x:82.6,s:12.5}],[{type:'line',data:QMD11P_1_LINE,color:C_QB,w:3},{type:'step',data:QMD11P_2_LINE,color:C_QG,w:3},{type:'area',data:QMD11P_2_BAND,color:C_QG},{type:'area',data:QMD11P_1_BAND,color:C_QB},{type:'dots',data:QMD11P_1_LOW,color:C_QB},{type:'dots',data:QMD11P_2_LOW,color:C_QG}]),
 P(400,456.7,[-0.08,6.38],T_INJR_L,13,'solid',[{t:'[mA/s]',x:82.6,s:12.5}],[{type:'line',data:INJR_L_LINE,color:C_INJR,w:3},{type:'area',data:INJR_L_BAND,color:C_INJR},{type:'vseg',data:INJR_L_SEG,color:C_INJR,w:3}]),
 P(456.7,516.7,[-6.6,109.7],T_EFF,13,'solid',[{t:'[%]',x:66,s:12.5}],[{type:'line',data:INJE_L_LINE,color:C_EFF,w:3},{type:'vseg',data:INJE_L,color:C_EFF,w:1.8}]),
 P(516.7,597.3,[0,15300],T_ECLBW,14,'solid',[{t:'ECL_BW',x:44.8,s:13,b:1}],[{type:'line',data:ECLBW_L_LINE,color:C_ECL,w:1.3},{type:'area',data:ECLBW_L_BAND,color:C_ECL},{type:'vseg',data:ECLBW_L_SPK,color:C_ECL,w:2.4}]),
 P(597.3,676.7,[0,30],T_DUR_L,14,'solid',[{t:'[ms]',x:70.8,s:13,b:1}],[{type:'step',data:DUR_L,color:C_DUR,w:1.3}]),
 P(676.7,758.3,[0,4.08],T_TOP,14,'solid',[{t:'[Hz]',x:81.2,s:11.5}],[{type:'line',data:TOP_HZ,color:C_TOP,w:1.3}],{exp:{x:37.8,y:695,p:'6'}}),
 P(758.3,838.3,[0,300],T_CDC,14,'solid',[{t:'[uA]',x:61.3,s:13,b:1}],[{type:'vseg',data:CDC_SPK,color:C_CDC,w:2.2},{type:'line',data:CDC_AV,color:C_CDCAV,w:1.6}]),
 P(838.3,917.7,[0,50],T_DIAM,14,'solid',[{t:'[mRad/s]',x:70.8,s:13,b:1}],[{type:'line',data:DIAM_BASE,color:C_DIAM,w:1.3},{type:'vseg',data:DIAM_SPK,color:C_DIAM,w:1.9},{type:'area',data:DIAM_BAND,color:C_DIAM}]),
 P(917.7,999.3,[0,238],T_VXD_L,14,'dotted',[{t:'VXD',x:66,s:12.5}],[{type:'area',data:VXD_FW225,color:C_HER},{type:'area',data:VXD_FW135,color:C_LER}])
]};

const RIGHT={id:'R',x0:1003,x1:1636,t0:14.879,t1:23.879,labelY:1036,dateX:954.3,dateY:1057,panels:[
 P(53.3,112.3,[0,28200],T_LUM,13,'dotted',[{t:'Luminosity',x:951.9,s:12}],[{type:'line',data:LUM,color:C_LUM,w:1.4}]),
 P(112.3,172.3,[0,1730],T_CUR,13,'dotted',[{t:'I[mA]',x:961.3,s:12.5}],[{type:'line',data:LER_I,color:C_LER,w:1.4},{type:'line',data:HER_I,color:C_HER,w:1.4}]),
 P(172.3,231,[-0.9,13.7],T_REP_R,13,'dotted',[{t:'Rep.',x:963.7,s:12.5},{t:'Rate[Hz]',x:977.9,s:12.5}],[{type:'step',data:REP_HER,color:C_REPH,w:1.4}]),
 P(231,290,[-0.14,2.3],T_Q_R,13,'solid',[{t:'Q[nC]',x:967,s:12.5}],[{type:'step',data:QMD8E_1_LINE,color:C_QB,w:3},{type:'line',data:QMD8E_2_LINE,color:C_QG,w:3.5},{type:'area',data:QMD8E_1_BAND,color:C_QB}]),
 P(290,349.5,[-0.03,1.57],T_INJR_R,13,'solid',[{t:'[mA/s]',x:968.4,s:12.5}],[{type:'line',data:INJR_R_LINE,color:C_INJR,w:3.5},{type:'area',data:INJR_R_BAND,color:C_INJR},{type:'vseg',data:INJR_R_SEG,color:C_INJR,w:3}]),
 P(349.5,414,[-5.5,110],T_EFF,13,'solid',[{t:'[%]',x:968.4,s:12.5}],[{type:'line',data:INJE_R_LINE,color:C_EFF,w:3},{type:'vseg',data:INJE_R,color:C_EFF,w:1.8}]),
 P(414,499,[0,5000],T_ECLFW,14,'solid',[{t:'ECL_FW',x:954.3,s:13,b:1}],[{type:'line',data:ECLFW_R_LINE,color:C_ECL,w:1.3},{type:'area',data:ECLFW_R_BAND,color:C_ECL},{type:'vseg',data:ECLFW_R_SEG,color:C_ECL,w:2.4}]),
 P(499,583.7,[0,20.2],T_DUR_R,14,'solid',[{t:'[ms]',x:973.1,s:13,b:1}],[]),
 P(583.7,668.9,[0,5],T_PHOTON,14,'solid',[{t:'Photon',x:970.8,s:12},{t:'Rate',x:986.4,s:12}],[{type:'line',data:PHOTON_FW,color:C_SRFW,w:1.6}],{exp:{x:940,y:602,p:'5'}}),
 P(668.9,753.6,[0,4.05],T_TOP,14,'solid',[{t:'[Hz]',x:984,s:11.5}],[{type:'line',data:TOP_HZ,color:C_TOP,w:1.3}],{exp:{x:940,y:688,p:'6'}}),
 P(753.6,839.6,[0,300],T_CDC,14,'solid',[{t:'[uA]',x:963.7,s:13,b:1}],[{type:'vseg',data:CDC_SPK,color:C_CDC,w:2.2},{type:'line',data:CDC_AV,color:C_CDCAV,w:1.6}]),
 P(839.6,925.5,[0,50],T_DIAM,14,'solid',[{t:'[mRad/s]',x:973,s:13,b:1}],[{type:'line',data:DIAM_BASE,color:C_DIAM,w:1.3},{type:'vseg',data:DIAM_SPK,color:C_DIAM,w:1.9},{type:'area',data:DIAM_BAND,color:C_DIAM}]),
 P(925.5,1009.4,[0,5130],T_VXD_R,14,'dotted',[{t:'VXD',x:959,s:13,b:1}],[{type:'line',data:VXD_BW270_BASE,color:C_HER,w:1.5},{type:'vseg',data:VXD_BW,color:C_LER,w:2.2,lo:d=>0,hi:d=>d[1]},{type:'vseg',data:VXD_BW,color:C_HER,w:2.2,lo:d=>0,hi:d=>d[2]}])
]};

const LEG_L=[
 {box:[795.7,248.3,85,46],lx:[802,842],tx:847,items:[{k:'line',c:C_LER,y:262.3,t:'LER'},{k:'line',c:C_HER,y:280.3,t:'HER'}]},
 {box:[780.3,300.7,100.4,39],lx:[787,827],tx:833,big:1,items:[{k:'line',c:C_REPL,y:319.7,t:'LER'}]},
 {box:[733.7,361.7,147,46],dx:741.7,tx:766.7,items:[{k:'dot',c:C_QB,y:375.3,t:'QMD11P_1(nC)'},{k:'dot',c:C_QG,y:393.3,t:'QMD11P_2(nC)'}]},
 {box:[769.3,417.3,111.4,28.4],dx:777.3,tx:802.7,items:[{k:'dot',c:C_INJR,y:431.5,t:'Inj.Rate'}]},
 {box:[724.7,473.3,156,64.4],dx:732.7,tx:757.3,items:[{k:'dot',c:'#000',y:487,t:'Inj.Eff(BCM1)'},{k:'dot',c:'#888',y:505.3,t:'Inj.Eff(BCM2)'},{k:'none',y:522.3,t:'Inj.Eff'}]},
 {box:[768.3,533.3,112.4,28.4],lx:[775,815],tx:820,items:[{k:'line',c:C_ECL,y:547.5,t:'ECL_BW'}]},
 {box:[750.3,604.3,130.4,46.4],lx:[757,797],tx:802,items:[{k:'line',c:C_DUR,y:627,t:'ECL BG',ty:618},{k:'none',y:636,t:'Duration'}]},
 {box:[750.3,693.3,130.4,28.4],lx:[757,797],tx:802,items:[{k:'line',c:C_TOP,y:707.5,t:'TOP [Hz]'}]},
 {box:[768.3,774.3,112.4,46.4],lx:[775,815],tx:820,items:[{k:'line',c:C_CDC,y:788.3,t:'CDC'},{k:'line',c:C_CDCAV,y:806.3,t:'CDC_av'}]},
 {box:[759,854.3,121.7,28.4],lx:[766,806],tx:811,items:[{k:'line',c:C_DIAM,y:868.5,t:'Diamond'}]},
 {box:[741.3,934.3,139.4,46.4],lx:[748,788],tx:793,items:[{k:'line',c:C_HER,y:948.3,t:'VXD_FW225'},{k:'line',c:C_LER,y:966.3,t:'VXD_FW135'}]}
];
const LEG_R=[
 {box:[1697.3,128.3,85.4,45.7],lx:[1704,1743.3],tx:1749.3,items:[{k:'line',c:C_LER,y:142,t:'LER'},{k:'line',c:C_HER,y:160,t:'HER'}]},
 {box:[1682.7,183.3,100,39],lx:[1689.3,1728.7],tx:1734.3,big:1,items:[{k:'line',c:C_REPH,y:202.3,t:'HER'}]},
 {box:[1644.7,247.3,138,46],dx:1652.3,tx:1677.3,items:[{k:'dot',c:C_QB,y:261.7,t:'QMD8E_1(nC)'},{k:'dot',c:C_QG,y:279.3,t:'QMD8E_2(nC)'}]},
 {box:[1671.3,307.3,111.4,28],dx:1679.3,tx:1704.3,items:[{k:'dot',c:C_INJR,y:321,t:'Inj.Rate'}]},
 {box:[1626.7,366.7,156,63.3],dx:1633.7,tx:1659.3,items:[{k:'dot',c:'#000',y:380,t:'Inj.Eff(BCM1)'},{k:'dot',c:'#888',y:397.7,t:'Inj.Eff(BCM2)'},{k:'none',y:415,t:'Inj.Eff'}]},
 {box:[1670.7,431.7,112,26.6],lx:[1677.3,1716.7],tx:1722.3,items:[{k:'line',c:C_ECL,y:444.5,t:'ECL_FW'}]},
 {box:[1652.3,505.8,130.4,46.5],lx:[1659,1699],tx:1704.3,items:[{k:'line',c:C_DUR,y:529.2,t:'ECL BG',ty:520.3},{k:'none',y:537.9,t:'Duration'}]},
 {box:[1679.3,600.5,103.4,46.2],lx:[1686,1725.7],tx:1731.7,items:[{k:'line',c:C_SRFW,y:614.3,t:'SR_FW'},{k:'line',c:C_LER,y:631.9,t:'SR_BW'}]},
 {box:[1652.3,685.6,130.4,27.9],lx:[1659,1699],tx:1704.3,items:[{k:'line',c:C_TOP,y:699.4,t:'TOP [Hz]'}]},
 {box:[1670.3,770.3,112.4,46.1],lx:[1677,1716.7],tx:1722.3,items:[{k:'line',c:C_CDC,y:784,t:'CDC'},{k:'line',c:C_CDCAV,y:802.3,t:'CDC_av'}]},
 {box:[1661.3,856.4,121.4,27.5],lx:[1668,1707.7],tx:1713.3,items:[{k:'line',c:C_DIAM,y:870.2,t:'Diamond'}]},
 {box:[1643.3,941.4,139.4,45.8],lx:[1650,1690],tx:1695.7,items:[{k:'line',c:C_LER,y:955.2,t:'VXD_BW180'},{k:'line',c:C_HER,y:973.1,t:'VXD_BW270'}]}
];

// ================= RENDER =================
const svg=d3.select('#c');
svg.append('rect').attr('width',1806).attr('height',1062).attr('fill','#fff');

function drawSeries(g,S,x,y){
  const col=S.color;
  if(S.type==='line'||S.type==='step'){
    const ln=d3.line().defined(d=>d[1]!=null).x(d=>x(d[0])).y(d=>y(d[1]));
    if(S.type==='step') ln.curve(d3.curveStepAfter);
    g.append('path').attr('d',ln(S.data)).attr('fill','none').attr('stroke',col).attr('stroke-width',S.w||1.2);
  } else if(S.type==='area'){
    const ar=d3.area().defined(d=>d[1]!=null).x(d=>x(d[0])).y0(d=>y(d[1])).y1(d=>y(d[2]));
    g.append('path').attr('d',ar(S.data)).attr('fill',col).attr('stroke',col).attr('stroke-width',S.w||1);
  } else if(S.type==='vseg'){
    const lo=S.lo||(d=>d[1]),hi=S.hi||(d=>d[2]);
    g.selectAll(null).data(S.data).enter().append('line')
     .attr('x1',d=>x(d[0])).attr('x2',d=>x(d[0])).attr('y1',d=>y(lo(d))).attr('y2',d=>y(hi(d)))
     .attr('stroke',col).attr('stroke-width',S.w||2);
  } else if(S.type==='dots'){
    g.selectAll(null).data(S.data).enter().append('rect')
     .attr('x',d=>x(d[0])-1.6).attr('y',d=>y(d[1])-1.6).attr('width',3.2).attr('height',3.2).attr('fill',col);
  }
}

function drawChart(C){
  const x=d3.scaleLinear().domain([C.t0,C.t1]).range([C.x0,C.x1]);
  const W=C.x1-C.x0;
  const top=C.panels[0].top, bottom=C.panels[C.panels.length-1].bottom;
  C.panels.forEach((Pn,i)=>{
    const h=Pn.bottom-Pn.top;
    const y=d3.scaleLinear().domain(Pn.domain).range([Pn.bottom,Pn.top]);
    const g=svg.append('g');
    const cid='clip'+C.id+i;
    svg.append('clipPath').attr('id',cid).append('rect').attr('x',C.x0).attr('y',Pn.top-1.5).attr('width',W).attr('height',h+3);
    HOUR_TICKS.filter(t=>t>=16).forEach(t=>g.append('line').attr('x1',x(t)).attr('x2',x(t)).attr('y1',Pn.top).attr('y2',Pn.bottom)
      .attr('stroke','#9a9a9a').attr('stroke-width',1).attr('stroke-dasharray','2,3'));
    Pn.ticks.forEach(v=>{const yy=y(v); if(yy>Pn.top+2&&yy<Pn.bottom-2)
      g.append('line').attr('x1',C.x0).attr('x2',C.x1).attr('y1',yy).attr('y2',yy).attr('stroke','#9a9a9a').attr('stroke-width',1).attr('stroke-dasharray','2,3');});
    const bl=g.append('line').attr('x1',C.x0).attr('x2',C.x1).attr('y1',Pn.bottom).attr('y2',Pn.bottom).attr('stroke','#000');
    if(Pn.bstyle==='dotted') bl.attr('stroke-width',1.2).attr('stroke-dasharray','2,2'); else bl.attr('stroke-width',1.5);
    const tk=[]; for(let m=Math.ceil(C.t0*3);m<=C.t1*3;m++) tk.push(m/3);
    tk.forEach(t=>{const maj=Math.abs(t-Math.round(t))<1e-6; const L=maj?0.15*h:0.07*h;
      g.append('line').attr('x1',x(t)).attr('x2',x(t)).attr('y1',Pn.bottom).attr('y2',Pn.bottom-L).attr('stroke','#000').attr('stroke-width',1.2);
      if(i===0) g.append('line').attr('x1',x(t)).attr('x2',x(t)).attr('y1',Pn.top).attr('y2',Pn.top+L).attr('stroke','#000').attr('stroke-width',1.2);
    });
    const sg=g.append('g').attr('clip-path','url(#'+cid+')');
    Pn.series.forEach(S=>drawSeries(sg,S,x,y));
    const step=(Pn.ticks[1]-Pn.ticks[0])/5;
    const n0=Math.ceil((Pn.domain[0]-1e-9)/step), n1=Math.floor((Pn.domain[1]+1e-9)/step);
    for(let k=n0;k<=n1;k++){const v=k*step; const yy=y(v); if(yy<Pn.top-0.5||yy>Pn.bottom+0.5) continue;
      const maj=Pn.ticks.some(t=>Math.abs(t-v)<step*1e-3);
      g.append('line').attr('x1',C.x0).attr('x2',C.x0+(maj?20:7)).attr('y1',yy).attr('y2',yy).attr('stroke','#000').attr('stroke-width',1);
    }
    Pn.ticks.forEach(v=>{g.append('text').attr('x',C.x0-3.5).attr('y',y(v)).attr('text-anchor','end').attr('dominant-baseline','central')
      .attr('font-size',Pn.fs).text(String(v));});
    const cy=(Pn.top+Pn.bottom)/2;
    Pn.title.forEach(T=>{svg.append('text').attr('transform',`translate(${T.x},${cy}) rotate(-90)`).attr('text-anchor','middle')
      .attr('dominant-baseline','central').attr('font-size',T.s).attr('font-weight',T.b?'bold':'normal').text(T.t);});
    if(Pn.exp){const e=svg.append('text').attr('x',Pn.exp.x).attr('y',Pn.exp.y).attr('font-size',14);
      e.append('tspan').text('x10'); e.append('tspan').attr('dy',-8).attr('font-size',10.5).text(Pn.exp.p);}
  });
  [C.x0,C.x1].forEach(xx=>svg.append('line').attr('x1',xx).attr('x2',xx).attr('y1',top).attr('y2',bottom).attr('stroke','#000').attr('stroke-width',1.6));
  svg.append('line').attr('x1',C.x0).attr('x2',C.x1).attr('y1',top).attr('y2',top).attr('stroke','#000').attr('stroke-width',1.6);
  const f=svg.append('text').attr('x',x(15)-22).attr('y',C.labelY).attr('font-size',20);
  [['15',''],['h','s'],['0',''],['m','s'],['0',''],['s','s']].forEach(([t,s])=>{
    if(s) f.append('tspan').attr('font-size',13).attr('dy',-9).text(t); else f.append('tspan').attr('dy',f.node().childNodes.length?9:0).text(t);});
  HOUR_LABELS.forEach(hh=>{const t=svg.append('text').attr('x',x(hh)).attr('y',C.labelY).attr('text-anchor','middle').attr('font-size',20);
    t.append('tspan').text(String(hh)); t.append('tspan').attr('font-size',13).attr('dy',-9).text('h');});
  svg.append('text').attr('x',C.dateX).attr('y',C.dateY).attr('font-size',20).text(DATE_LABEL);
}

function drawLegends(L){
  L.forEach(Lg=>{const [bx,by,bw,bh]=Lg.box;
    svg.append('rect').attr('x',bx+2).attr('y',by+2).attr('width',bw).attr('height',bh).attr('fill','#000');
    svg.append('rect').attr('x',bx).attr('y',by).attr('width',bw).attr('height',bh).attr('fill','#fff').attr('stroke','#000').attr('stroke-width',1.2);
    Lg.items.forEach(it=>{
      if(it.k==='line') svg.append('line').attr('x1',Lg.lx[0]).attr('x2',Lg.lx[1]).attr('y1',it.y).attr('y2',it.y).attr('stroke',it.c).attr('stroke-width',1.5);
      if(it.k==='dot') svg.append('circle').attr('cx',Lg.dx).attr('cy',it.y).attr('r',2.6).attr('fill',it.c);
      const t=svg.append('text').attr('x',Lg.tx).attr('y',it.ty||it.y).attr('dominant-baseline','central').text(it.t);
      if(Lg.big) t.attr('font-family','"Liberation Sans",Arial,sans-serif').attr('font-size',25).attr('textLength',42).attr('lengthAdjust','spacingAndGlyphs');
      else t.attr('font-size',14.5);
    });
  });
}

drawChart(LEFT);
drawChart(RIGHT);
drawLegends(LEG_L);
drawLegends(LEG_R);
svg.append('line').attr('x1',0).attr('x2',1806).attr('y1',1).attr('y2',1).attr('stroke','#a0a0a0').attr('stroke-width',2);
svg.append('line').attr('x1',1).attr('x2',1).attr('y1',0).attr('y2',1062).attr('stroke','#a0a0a0').attr('stroke-width',2);
svg.append('line').attr('x1',902.5).attr('x2',902.5).attr('y1',0).attr('y2',1062).attr('stroke','#e4e4e4').attr('stroke-width',3);
svg.append('line').attr('x1',1804).attr('x2',1804).attr('y1',0).attr('y2',1062).attr('stroke','#dcdcdc').attr('stroke-width',2);
[LEFT,RIGHT].forEach(C=>svg.append('line').attr('x1',C.x1).attr('x2',C.x1).attr('y1',C.panels[0].top).attr('y2',C.panels[C.panels.length-1].bottom).attr('stroke','#000').attr('stroke-width',1.6));
</script>
</body></html>
